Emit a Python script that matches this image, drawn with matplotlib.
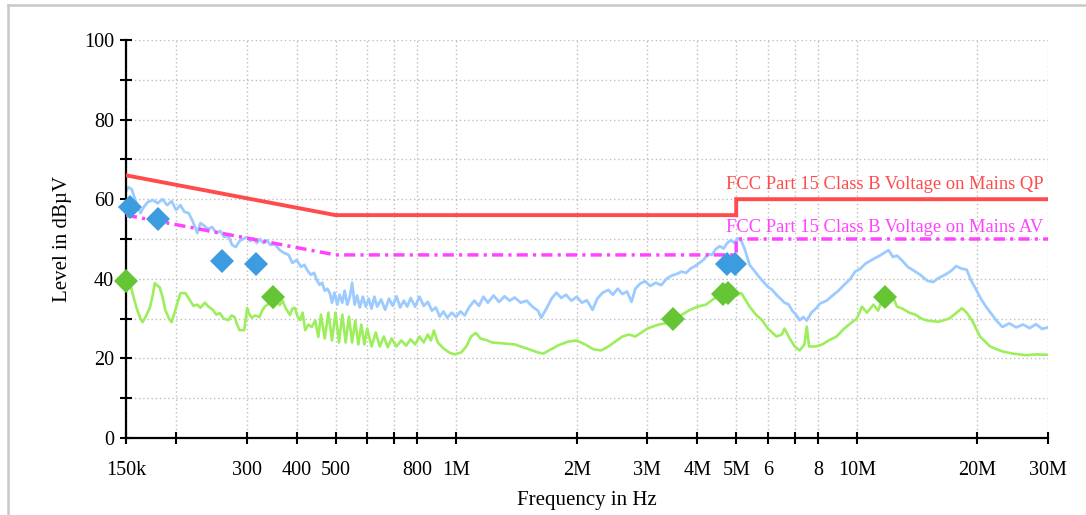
import numpy as np
import matplotlib
matplotlib.use('Agg')
import matplotlib.pyplot as plt
from matplotlib.ticker import FixedLocator, FixedFormatter, NullLocator
from matplotlib.lines import Line2D

plt.rcParams['font.family'] = ['Liberation Serif', 'DejaVu Serif']

# axis ticks (frequency in MHz)
x_ticks = [0.15, 0.2, 0.3, 0.4, 0.5, 0.6, 0.7, 0.8, 1, 2, 3, 4, 5, 6, 7, 8, 10, 20, 30]
x_labels = ['150k', '', '300', '400', '500', '', '', '800', '1M', '2M', '3M', '4M',
            '5M', '6', '', '8', '10M', '20M', '30M']
y_ticks = [0, 10, 20, 30, 40, 50, 60, 70, 80, 90, 100]
y_labels = ['0', '', '20', '', '40', '', '60', '', '80', '', '100']

# limit lines
qp_freq = [0.15, 0.5, 0.5, 5.0, 5.0, 30.0]
qp_level = [66, 56, 56, 56, 60, 60]
av_freq = [0.15, 0.5, 0.5, 5.0, 5.0, 30.0]
av_level = [56, 46, 46, 46, 50, 50]
qp_label = 'FCC Part 15 Class B Voltage on Mains QP'
av_label = 'FCC Part 15 Class B Voltage on Mains AV'

# peak detector scan (MHz, dBuV)
peak_trace = [
    (0.150, 62.0), (0.152, 63.0), (0.155, 62.5), (0.158, 60.0), (0.160, 58.5),
    (0.163, 56.5), (0.166, 58.0), (0.170, 59.3), (0.175, 59.8), (0.180, 59.0),
    (0.185, 60.0), (0.190, 58.5), (0.195, 59.5), (0.200, 57.3), (0.205, 58.5),
    (0.210, 56.8), (0.215, 56.5), (0.220, 54.5), (0.226, 51.5), (0.230, 54.0),
    (0.234, 53.5), (0.240, 52.5), (0.246, 53.0), (0.252, 51.5), (0.258, 52.0),
    (0.264, 50.5), (0.270, 50.8), (0.276, 48.5), (0.282, 48.0), (0.288, 49.5),
    (0.294, 50.0), (0.300, 50.5), (0.306, 49.5), (0.312, 50.2), (0.318, 49.0),
    (0.324, 50.0), (0.330, 49.0), (0.337, 49.7), (0.344, 48.5), (0.352, 48.8),
    (0.363, 47.2), (0.372, 46.5), (0.382, 46.0), (0.390, 44.0), (0.400, 44.7),
    (0.410, 43.0), (0.418, 43.5), (0.426, 42.0), (0.434, 41.0), (0.442, 41.5),
    (0.449, 39.7), (0.456, 38.5), (0.463, 39.0), (0.470, 37.0), (0.477, 37.5),
    (0.484, 36.4), (0.490, 34.0), (0.497, 36.5), (0.505, 33.5), (0.512, 36.0),
    (0.520, 34.0), (0.527, 37.0), (0.535, 33.5), (0.543, 35.5), (0.550, 39.0),
    (0.558, 33.5), (0.566, 35.8), (0.575, 32.8), (0.585, 35.5), (0.595, 33.0),
    (0.605, 35.0), (0.615, 32.5), (0.625, 35.5), (0.635, 33.0), (0.650, 34.8),
    (0.665, 32.2), (0.680, 35.0), (0.695, 33.2), (0.710, 35.6), (0.725, 32.8),
    (0.740, 34.5), (0.755, 33.0), (0.770, 35.2), (0.790, 33.0), (0.810, 35.5),
    (0.830, 33.2), (0.850, 34.2), (0.870, 32.0), (0.890, 32.8), (0.910, 30.5),
    (0.930, 31.8), (0.950, 30.2), (0.975, 31.5), (1.000, 30.4), (1.025, 31.8),
    (1.050, 30.8), (1.080, 33.0), (1.110, 34.5), (1.140, 33.2), (1.170, 35.5),
    (1.200, 34.0), (1.240, 35.8), (1.280, 34.2), (1.320, 35.6), (1.360, 34.5),
    (1.400, 35.3), (1.450, 34.0), (1.500, 34.5), (1.550, 33.0), (1.600, 32.0),
    (1.630, 30.2), (1.680, 32.5), (1.730, 35.0), (1.780, 36.5), (1.830, 35.2),
    (1.880, 36.0), (1.940, 34.5), (2.000, 35.5), (2.060, 34.0), (2.120, 34.6),
    (2.190, 32.2), (2.250, 35.0), (2.320, 36.5), (2.400, 37.2), (2.460, 36.0),
    (2.530, 37.5), (2.600, 36.2), (2.670, 36.8), (2.740, 34.2), (2.800, 37.5),
    (2.880, 38.8), (2.960, 39.4), (3.050, 38.2), (3.150, 39.0), (3.250, 38.4),
    (3.350, 40.0), (3.450, 40.8), (3.550, 41.2), (3.650, 41.8), (3.750, 41.5),
    (3.850, 42.6), (3.950, 43.2), (4.050, 44.0), (4.150, 44.8), (4.250, 46.2),
    (4.350, 46.0), (4.450, 47.5), (4.550, 48.2), (4.650, 47.6), (4.750, 49.0),
    (4.850, 49.7), (4.950, 49.0), (5.050, 50.2), (5.150, 49.5), (5.250, 47.5),
    (5.400, 43.5), (5.550, 42.0), (5.700, 40.5), (5.850, 39.2), (6.000, 38.0),
    (6.150, 37.2), (6.300, 36.0), (6.450, 35.0), (6.600, 34.0), (6.750, 33.6),
    (6.900, 32.0), (7.050, 31.0), (7.200, 29.6), (7.350, 30.4), (7.500, 29.5),
    (7.700, 31.5), (7.900, 32.5), (8.100, 33.8), (8.400, 34.5), (8.700, 35.8),
    (9.000, 37.0), (9.300, 38.5), (9.600, 39.8), (9.900, 41.8), (10.20, 42.5),
    (10.50, 43.8), (10.80, 44.5), (11.10, 45.2), (11.40, 45.8), (11.70, 46.5),
    (12.00, 47.2), (12.30, 45.5), (12.60, 45.8), (13.00, 44.5), (13.40, 43.0),
    (13.90, 42.0), (14.40, 41.0), (15.00, 39.5), (15.50, 39.2), (16.00, 40.2),
    (16.60, 41.0), (17.20, 42.0), (17.70, 43.2), (18.20, 42.6), (18.80, 42.3),
    (19.30, 39.5), (19.80, 37.5), (20.40, 35.0), (21.00, 33.0), (21.60, 31.4),
    (22.30, 29.5), (23.10, 27.9), (24.00, 28.8), (25.00, 27.8), (26.00, 28.5),
    (27.00, 27.6), (28.00, 28.6), (29.00, 27.4), (30.00, 27.8),
]

# average detector scan (MHz, dBuV)
avg_trace = [
    (0.150, 39.4), (0.1535, 38.9), (0.157, 35.0), (0.160, 32.2), (0.163, 30.0),
    (0.165, 29.1), (0.168, 30.5), (0.172, 32.7), (0.175, 36.0), (0.177, 38.9),
    (0.180, 38.2), (0.182, 37.9), (0.185, 35.5), (0.188, 32.2), (0.192, 30.0),
    (0.195, 29.1), (0.199, 32.0), (0.205, 36.4), (0.211, 36.4), (0.216, 34.8),
    (0.221, 33.2), (0.226, 33.5), (0.230, 32.7), (0.236, 34.0), (0.241, 33.0),
    (0.247, 32.2), (0.252, 31.0), (0.257, 31.4), (0.263, 30.0), (0.270, 29.6),
    (0.275, 30.8), (0.280, 30.4), (0.284, 28.5), (0.288, 27.1), (0.296, 27.1),
    (0.301, 32.7), (0.305, 31.0), (0.309, 30.2), (0.315, 30.8), (0.323, 30.4),
    (0.328, 32.0), (0.333, 33.0), (0.343, 34.0), (0.350, 32.8), (0.356, 34.2),
    (0.363, 33.4), (0.369, 34.5), (0.375, 32.7), (0.385, 30.9), (0.390, 32.5),
    (0.396, 32.7), (0.402, 30.5), (0.408, 29.6), (0.414, 31.5), (0.420, 27.1),
    (0.428, 28.5), (0.436, 27.9), (0.445, 29.5), (0.453, 25.4), (0.460, 31.0),
    (0.470, 25.0), (0.480, 31.5), (0.490, 24.5), (0.500, 31.5), (0.510, 24.0),
    (0.520, 31.0), (0.530, 24.0), (0.540, 30.5), (0.550, 24.0), (0.560, 29.5),
    (0.570, 23.5), (0.580, 28.5), (0.590, 23.5), (0.600, 27.5), (0.615, 23.0),
    (0.630, 26.5), (0.645, 23.0), (0.660, 25.5), (0.675, 22.8), (0.690, 25.0),
    (0.710, 23.0), (0.730, 24.5), (0.750, 23.2), (0.770, 24.8), (0.790, 23.5),
    (0.810, 25.5), (0.830, 24.0), (0.850, 26.0), (0.865, 24.5), (0.880, 27.0),
    (0.900, 24.0), (0.930, 22.5), (0.960, 21.5), (0.990, 21.0), (1.030, 21.5),
    (1.060, 23.0), (1.090, 25.5), (1.120, 26.4), (1.150, 25.0), (1.190, 24.6),
    (1.230, 24.0), (1.300, 23.8), (1.400, 23.5), (1.500, 22.5), (1.600, 21.5),
    (1.650, 21.2), (1.720, 22.2), (1.800, 23.3), (1.900, 24.2), (2.000, 24.5),
    (2.100, 23.5), (2.200, 22.3), (2.300, 22.0), (2.400, 23.0), (2.500, 24.3),
    (2.600, 25.5), (2.700, 26.0), (2.800, 25.5), (2.900, 26.5), (3.000, 27.5),
    (3.200, 28.5), (3.400, 29.0), (3.600, 30.5), (3.800, 32.0), (4.000, 33.0),
    (4.200, 33.5), (4.400, 35.0), (4.600, 35.8), (4.800, 36.2), (5.000, 35.8),
    (5.150, 36.4), (5.400, 33.0), (5.600, 31.0), (5.800, 29.6), (6.000, 27.5),
    (6.300, 25.5), (6.500, 26.0), (6.600, 27.5), (6.800, 25.0), (7.000, 23.0),
    (7.200, 22.0), (7.400, 23.5), (7.500, 28.0), (7.600, 23.0), (7.900, 23.0),
    (8.200, 23.5), (8.500, 24.5), (8.900, 25.5), (9.300, 27.5), (9.700, 29.0),
    (10.00, 30.0), (10.30, 33.0), (10.60, 31.5), (11.00, 33.5), (11.30, 32.0),
    (11.60, 35.0), (12.00, 34.0), (12.30, 35.5), (12.60, 33.0), (13.00, 32.5),
    (13.50, 31.5), (14.00, 31.0), (14.50, 30.0), (15.00, 29.5), (16.00, 29.2),
    (17.00, 30.0), (17.70, 31.4), (18.30, 32.6), (18.80, 31.5), (19.40, 29.5),
    (20.30, 25.5), (21.50, 23.0), (23.00, 21.8), (24.50, 21.2), (26.50, 20.8),
    (28.00, 21.0), (30.00, 20.9),
]

# final measurements
qp_pts_freq = [0.1535, 0.180, 0.260, 0.317, 4.74, 4.96]
qp_pts_level = [58.0, 55.0, 44.5, 43.7, 43.7, 43.7]
av_pts_freq = [0.150, 0.349, 3.48, 4.63, 4.77, 11.76]
av_pts_level = [39.4, 35.4, 29.9, 36.2, 36.4, 35.4]

red = '#ff4b4b'
magenta = '#ff44ff'

fig = plt.figure(figsize=(10.86, 5.15), dpi=100)
ax = fig.add_axes([126 / 1086, 1 - 438 / 515, 922 / 1086, 398 / 515])

pk = np.array(peak_trace).T
av = np.array(avg_trace).T
ax.plot(pk[0], pk[1], color='#9dcbff', lw=2.0, zorder=2)
ax.plot(av[0], av[1], color='#9cee5c', lw=1.9, zorder=2)

ax.plot(qp_freq, qp_level, color=red, lw=2.8, zorder=3, solid_joinstyle='miter')
ax.plot(av_freq, av_level, color=magenta, lw=2.5, zorder=3,
        linestyle=(0, (3.2, 1.5, 0.9, 1.5)))

ax.plot(qp_pts_freq, qp_pts_level, 'D', color='#3d9be0', ms=12, mew=0, zorder=4,
        clip_on=False)
ax.plot(av_pts_freq, av_pts_level, 'D', color='#65c534', ms=12, mew=0, zorder=4,
        clip_on=False)

ax.text(29.2, 63.8, qp_label, color=red, ha='right', va='center', fontsize=13.3)
ax.text(29.2, 53.0, av_label, color=magenta, ha='right', va='center', fontsize=13.3)

ax.set_xscale('log')
ax.set_xlim(0.15, 30)
ax.set_ylim(0, 100)
ax.xaxis.set_major_locator(FixedLocator(x_ticks))
ax.xaxis.set_major_formatter(FixedFormatter(x_labels))
ax.xaxis.set_minor_locator(NullLocator())
ax.yaxis.set_major_locator(FixedLocator(y_ticks))
ax.yaxis.set_major_formatter(FixedFormatter(y_labels))

ax.grid(True, color='#bdbdbd', linestyle=(0, (1, 2)), lw=1)
ax.set_axisbelow(True)
for side in ['top', 'right']:
    ax.spines[side].set_visible(False)
for side in ['left', 'bottom']:
    ax.spines[side].set_linewidth(1.6)
ax.tick_params(axis='both', direction='inout', length=9, width=1.5, labelsize=14.5)
ax.tick_params(axis='x', pad=12)
ax.tick_params(axis='y', pad=4)

ax.set_xlabel('Frequency in Hz', fontsize=15, labelpad=8)
ax.set_ylabel('Level in dBµV', fontsize=15, labelpad=9)

# gray frame around the picture
fig.add_artist(Line2D([8 / 1086, 8 / 1086], [0, 1 - 5 / 515], color='#c8c8c8', lw=1.8))
fig.add_artist(Line2D([8 / 1086, 1], [1 - 5 / 515, 1 - 5 / 515], color='#c8c8c8', lw=1.8))

fig.savefig('out.png', dpi=100)
